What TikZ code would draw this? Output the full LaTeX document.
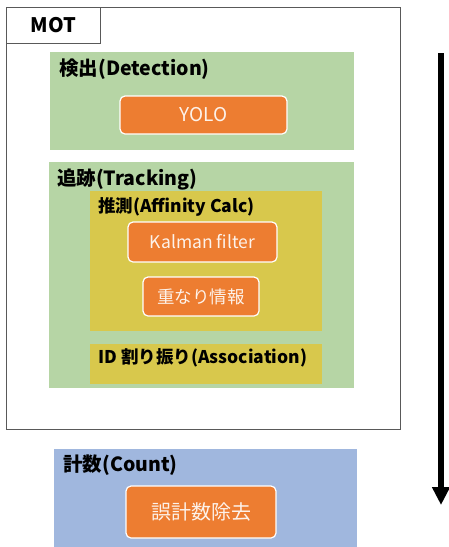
\documentclass[tikz,border=0pt]{standalone}
\usepackage{fontspec}
\usetikzlibrary{arrows.meta}
\newfontfamily\jp{Noto Sans CJK JP}
\definecolor{grn}{HTML}{B6D5A5}
\definecolor{ylw}{HTML}{D8C84C}
\definecolor{org}{HTML}{ED7D31}
\definecolor{blu}{HTML}{A0B7DE}
\tikzset{
  ttl/.style={anchor=west,inner sep=0pt,font=\jp\bfseries\fontsize{19.5}{21}\selectfont},
  sttl/.style={anchor=west,inner sep=0pt,font=\jp\bfseries\fontsize{17.5}{19}\selectfont},
  obox/.style={fill=org,draw=white,line width=1.2pt,rounded corners=5pt,text=white!90!org,font=\jp\fontsize{17.5}{19}\selectfont},
}
\begin{document}
\begin{tikzpicture}[x=1pt,y=-1pt]
\useasboundingbox (0,0) rectangle (449,547);
% MOT frame
\draw[gray!70!black,line width=0.9pt] (6,7) rectangle (400,429);
\node[draw=gray!70!black,line width=0.9pt,minimum width=94pt,minimum height=36pt,anchor=north west,font=\jp\bfseries\fontsize{20}{22}\selectfont,inner sep=0pt] (mot) at (6,7) {MOT};
% Detection
\fill[grn] (50,52) rectangle (354,150);
\node[ttl] (det) at (59,69) {検出(Detection)};
\node[obox,minimum width=167pt,minimum height=38pt,font=\jp\fontsize{19}{21}\selectfont] (yolo) at (203.5,115) {YOLO};
% Tracking
\fill[grn] (49,162) rectangle (354,388);
\node[ttl] (trk) at (57,179) {追跡(Tracking)};
\fill[ylw] (90,191) rectangle (322,331);
\node[sttl] (aff) at (98,207) {推測(Affinity Calc)};
\node[obox,minimum width=149pt,minimum height=40pt] (kal) at (202.5,242) {Kalman filter};
\node[obox,minimum width=116pt,minimum height=39pt] (ovl) at (201,296.5) {重なり情報};
\fill[ylw] (90,344) rectangle (322,384);
\node[sttl] (ida) at (98,358) {ID 割り振り(Association)};
% Count
\fill[blu] (54,449) rectangle (357,547);
\node[ttl] (cnt) at (63,465) {計数(Count)};
\node[obox,minimum width=150pt,minimum height=52pt,font=\jp\fontsize{20}{22}\selectfont] (err) at (201,512) {誤計数除去};
% arrow
\coordinate (a1) at (441,53);
\coordinate (a2) at (441,505);
\draw[line width=6pt,-{Triangle[length=18pt,width=17pt]}] (a1) -- (a2);
\end{tikzpicture}
\end{document}
